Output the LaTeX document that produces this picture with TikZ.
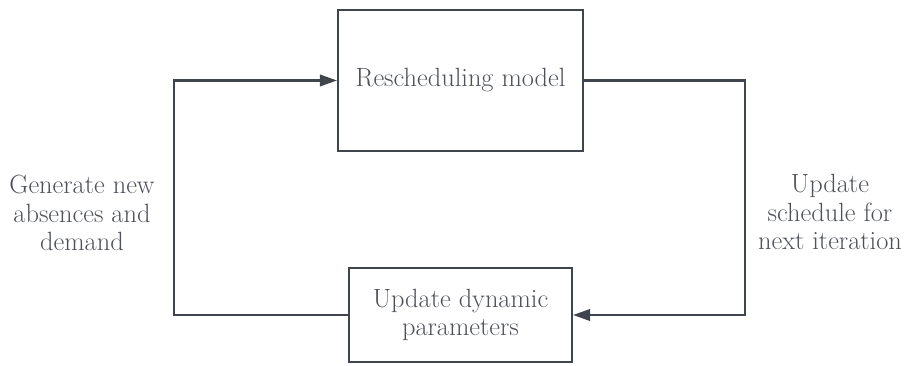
\documentclass[tikz,border=0pt]{standalone}
\usepackage{tikz}
\usetikzlibrary{arrows.meta, positioning}
\definecolor{linegray}{HTML}{40454D}
\definecolor{textgray}{HTML}{4E5258}

\begin{document}
\begin{tikzpicture}[->, >={Triangle[length=3.4mm,width=2.3mm]}, line width=1.2pt, draw=linegray]
\tikzstyle{every node}=[text=textgray, font=\fontsize{15}{16.4}\selectfont, align=center]
\tikzstyle{block}=[draw=linegray, line width=1.2pt, fill=white]
\useasboundingbox (0,0) rectangle (18.24,7.3);
\node[block, minimum width=4.9cm, minimum height=2.82cm]  (resched) at (9.21,5.69) {Rescheduling model};
\node[block, minimum width=4.46cm, minimum height=1.88cm] (update)  at (9.21,1.0)  {Update dynamic\\parameters};
\coordinate (lturn) at (3.48,5.69);
\coordinate (rturn) at (14.9,1.0);
\node (gen)   at (1.64,3.04)  {Generate new\\absences and\\demand};
\node (sched) at (16.6,3.06)  {Update\\schedule for\\next iteration};
\draw[linegray] (update.west) -| (lturn) -- (resched.west);
\draw[linegray] (resched.east) -| (rturn) -- (update.east);
\end{tikzpicture}
\end{document}
